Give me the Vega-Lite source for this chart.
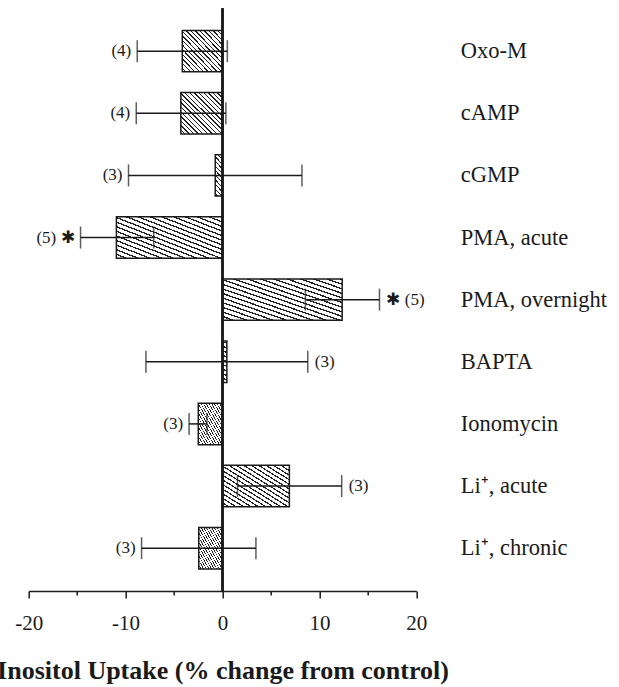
{
  "$schema": "https://vega.github.io/schema/vega-lite/v6.json",
  "autosize": {"type": "none"},
  "width": 387.6,
  "height": 582.7,
  "padding": {"left": 28.7, "top": 8.3, "right": 202.7, "bottom": 96},
  "background": "white",
  "config": {"view": {"stroke": null}},
  "data": {"values": [
    {"name": "Oxo-M", "mean": -4.15, "lo": -8.8, "hi": 0.5, "note": "(4)", "side": "left"},
    {"name": "cAMP", "mean": -4.3, "lo": -8.9, "hi": 0.35, "note": "(4)", "side": "left"},
    {"name": "cGMP", "mean": -0.75, "lo": -9.7, "hi": 8.2, "note": "(3)", "side": "left"},
    {"name": "PMA, acute", "mean": -10.95, "lo": -14.65, "hi": -7.1, "note": "(5) ✱", "side": "left"},
    {"name": "PMA, overnight", "mean": 12.35, "lo": 8.55, "hi": 16.2, "note": "✱ (5)", "side": "right"},
    {"name": "BAPTA", "mean": 0.45, "lo": -7.9, "hi": 8.8, "note": "(3)", "side": "right"},
    {"name": "Ionomycin", "mean": -2.5, "lo": -3.45, "hi": -1.6, "note": "(3)", "side": "left"},
    {"name": "Li⁺, acute", "mean": 6.9, "lo": 1.55, "hi": 12.3, "note": "(3)", "side": "right"},
    {"name": "Li⁺, chronic", "mean": -2.45, "lo": -8.35, "hi": 3.45, "note": "(3)", "side": "left"}
  ]},
  "encoding": {
    "y": {
      "field": "name", "type": "nominal", "sort": null,
      "scale": {"paddingInner": 0.333, "paddingOuter": 0.356},
      "axis": {
        "orient": "right", "title": null, "domain": false, "ticks": false,
        "labelAlign": "left", "labelBaseline": "middle", "labelPadding": 44,
        "labelFont": "Liberation Serif", "labelFontSize": 22.5, "labelColor": "#1a1a1a", "labelLimit": 300
      }
    }
  },
  "layer": [
    {
      "mark": {
        "type": "bar", "stroke": "#1a1a1a", "strokeWidth": 1.5,
        "fill": {
          "gradient": "linear", "x1": 0, "y1": 1, "x2": 1, "y2": 0,
          "stops": [
            {"offset": 0, "color": "white"}, {"offset": 0.03889, "color": "white"}, {"offset": 0.03889, "color": "#222"}, {"offset": 0.05556, "color": "#222"},
            {"offset": 0.05556, "color": "white"}, {"offset": 0.09444, "color": "white"}, {"offset": 0.09444, "color": "#222"}, {"offset": 0.11111, "color": "#222"},
            {"offset": 0.11111, "color": "white"}, {"offset": 0.15, "color": "white"}, {"offset": 0.15, "color": "#222"}, {"offset": 0.16667, "color": "#222"},
            {"offset": 0.16667, "color": "white"}, {"offset": 0.20556, "color": "white"}, {"offset": 0.20556, "color": "#222"}, {"offset": 0.22222, "color": "#222"},
            {"offset": 0.22222, "color": "white"}, {"offset": 0.26111, "color": "white"}, {"offset": 0.26111, "color": "#222"}, {"offset": 0.27778, "color": "#222"},
            {"offset": 0.27778, "color": "white"}, {"offset": 0.31667, "color": "white"}, {"offset": 0.31667, "color": "#222"}, {"offset": 0.33333, "color": "#222"},
            {"offset": 0.33333, "color": "white"}, {"offset": 0.37222, "color": "white"}, {"offset": 0.37222, "color": "#222"}, {"offset": 0.38889, "color": "#222"},
            {"offset": 0.38889, "color": "white"}, {"offset": 0.42778, "color": "white"}, {"offset": 0.42778, "color": "#222"}, {"offset": 0.44444, "color": "#222"},
            {"offset": 0.44444, "color": "white"}, {"offset": 0.48333, "color": "white"}, {"offset": 0.48333, "color": "#222"}, {"offset": 0.5, "color": "#222"},
            {"offset": 0.5, "color": "white"}, {"offset": 0.53889, "color": "white"}, {"offset": 0.53889, "color": "#222"}, {"offset": 0.55556, "color": "#222"},
            {"offset": 0.55556, "color": "white"}, {"offset": 0.59444, "color": "white"}, {"offset": 0.59444, "color": "#222"}, {"offset": 0.61111, "color": "#222"},
            {"offset": 0.61111, "color": "white"}, {"offset": 0.65, "color": "white"}, {"offset": 0.65, "color": "#222"}, {"offset": 0.66667, "color": "#222"},
            {"offset": 0.66667, "color": "white"}, {"offset": 0.70556, "color": "white"}, {"offset": 0.70556, "color": "#222"}, {"offset": 0.72222, "color": "#222"},
            {"offset": 0.72222, "color": "white"}, {"offset": 0.76111, "color": "white"}, {"offset": 0.76111, "color": "#222"}, {"offset": 0.77778, "color": "#222"},
            {"offset": 0.77778, "color": "white"}, {"offset": 0.81667, "color": "white"}, {"offset": 0.81667, "color": "#222"}, {"offset": 0.83333, "color": "#222"},
            {"offset": 0.83333, "color": "white"}, {"offset": 0.87222, "color": "white"}, {"offset": 0.87222, "color": "#222"}, {"offset": 0.88889, "color": "#222"},
            {"offset": 0.88889, "color": "white"}, {"offset": 0.92778, "color": "white"}, {"offset": 0.92778, "color": "#222"}, {"offset": 0.94444, "color": "#222"},
            {"offset": 0.94444, "color": "white"}, {"offset": 0.98333, "color": "white"}, {"offset": 0.98333, "color": "#222"}, {"offset": 1, "color": "#222"}
          ]
        }
      },
      "encoding": {
        "x": {
          "field": "mean", "type": "quantitative",
          "scale": {"domain": [-20, 20], "nice": false, "zero": false},
          "axis": {
            "orient": "bottom", "grid": false,
            "values": [-20, -15, -10, -5, 0, 5, 10, 15, 20],
            "labelExpr": "datum.value % 10 === 0 ? '' + datum.value : ''",
            "domainColor": "#1a1a1a", "domainWidth": 1.5,
            "tickColor": "#1a1a1a", "tickWidth": 1.5,
            "tickSize": {"condition": {"test": "datum.value % 10 === 0", "value": 7}, "value": 4},
            "labelPadding": 14,
            "labelFont": "Liberation Serif", "labelFontSize": 21, "labelColor": "#1a1a1a",
            "labelFlush": false, "labelOverlap": false,
            "title": "Inositol Uptake (% change from control)",
            "titleFont": "Liberation Serif", "titleFontSize": 26, "titleFontWeight": "bold",
            "titleColor": "#1a1a1a", "titlePadding": 24
          }
        }
      }
    },
    {
      "mark": {"type": "rule", "color": "#1a1a1a", "strokeWidth": 1.5},
      "encoding": {"x": {"field": "lo", "type": "quantitative"}, "x2": {"field": "hi"}}
    },
    {
      "mark": {"type": "tick", "color": "#1a1a1a", "thickness": 1.5, "size": 22},
      "encoding": {"x": {"field": "lo", "type": "quantitative"}}
    },
    {
      "mark": {"type": "tick", "color": "#1a1a1a", "thickness": 1.5, "size": 22},
      "encoding": {"x": {"field": "hi", "type": "quantitative"}}
    },
    {
      "mark": {"type": "rule", "color": "#1a1a1a", "strokeWidth": 1.5},
      "encoding": {"x": {"datum": 0}, "y": null}
    },
    {
      "transform": [{"filter": "datum.side === 'left'"}],
      "mark": {"type": "text", "align": "right", "baseline": "middle", "dx": -6, "font": "Liberation Serif", "fontSize": 17, "color": "#1a1a1a"},
      "encoding": {"x": {"field": "lo", "type": "quantitative"}, "text": {"field": "note"}}
    },
    {
      "transform": [{"filter": "datum.side === 'right'"}],
      "mark": {"type": "text", "align": "left", "baseline": "middle", "dx": 7, "font": "Liberation Serif", "fontSize": 17, "color": "#1a1a1a"},
      "encoding": {"x": {"field": "hi", "type": "quantitative"}, "text": {"field": "note"}}
    }
  ]
}
